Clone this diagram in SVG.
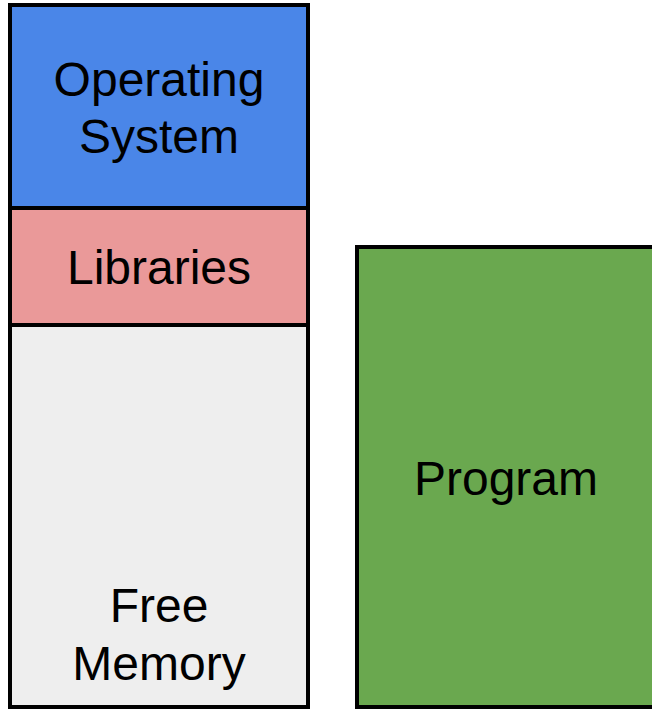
<svg xmlns="http://www.w3.org/2000/svg" width="652" height="709" viewBox="0 0 652 709">
<style>
.box{stroke:#000;stroke-width:4}
.t{font-family:"Liberation Sans",Arial,sans-serif;font-size:48px;fill:#000;text-anchor:middle}
</style>
<rect width="652" height="709" fill="#fff"/>
<g id="os">
<rect class="box" x="10" y="5" width="298" height="203" fill="#4a86e8"/>
<text class="t" x="159" y="96">Operating</text>
<text class="t" x="159" y="153">System</text>
</g>
<g id="libraries">
<rect class="box" x="10" y="208" width="298" height="117" fill="#ea9999"/>
<text class="t" x="159" y="284">Libraries</text>
</g>
<g id="free-memory">
<rect class="box" x="10" y="325" width="298" height="382" fill="#eeeeee"/>
<text class="t" x="159" y="622">Free</text>
<text class="t" x="159" y="680">Memory</text>
</g>
<g id="program">
<rect class="box" x="357" y="247" width="300" height="460" fill="#6aa84f"/>
<text class="t" x="506" y="495">Program</text>
</g>
<g id="connectors"/>
</svg>
